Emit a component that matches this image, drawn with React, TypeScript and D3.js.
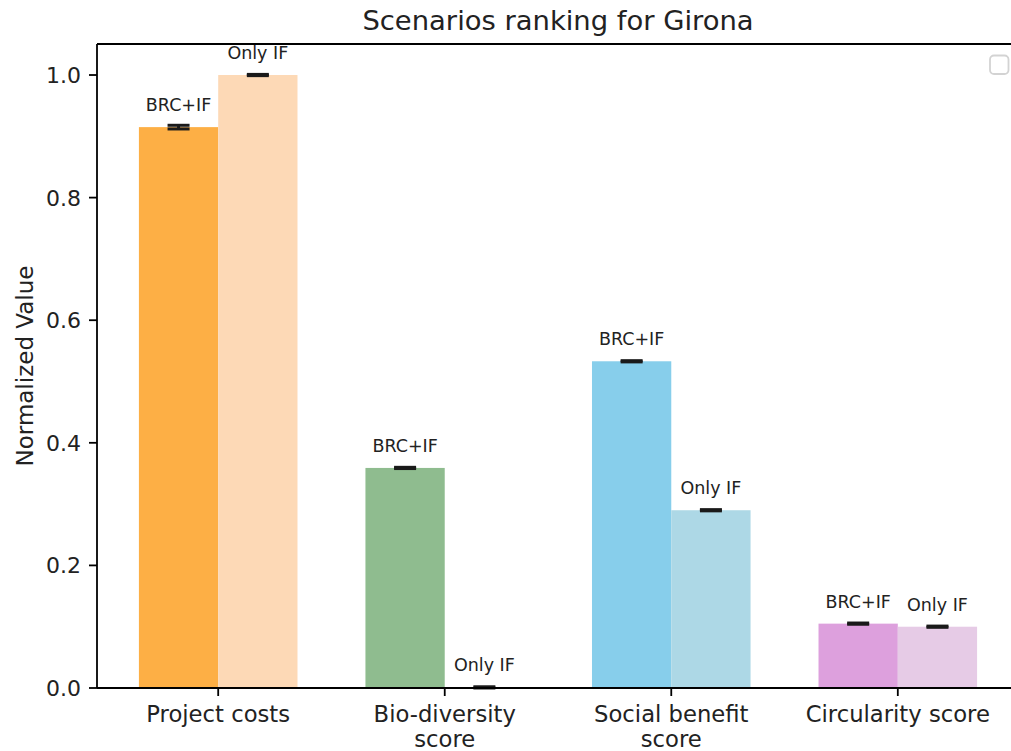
import React from "react";
import * as d3 from "d3";

const categories = ["Project costs", "Bio-diversity\nscore", "Social benefit\nscore", "Circularity score"];
const seriesNames = ["BRC+IF", "Only IF"];
const brcValues = [0.915, 0.359, 0.533, 0.105];
const brcErrors = [0.003, 0.001, 0.001, 0.001];
const onlyValues = [1.0, 0.001, 0.29, 0.1];
const onlyErrors = [0.001, 0.001, 0.001, 0.001];
const brcColors = ["#FDAF45", "#8FBC8F", "#87CEEB", "#DDA0DD"];
const onlyColors = ["#FDD9B6", "#C9E3C9", "#ADD8E6", "#E6CBE6"];
const yTicks = [0, 0.2, 0.4, 0.6, 0.8, 1.0];

const W = 1011;
const H = 751;
const FONT = "DejaVu Sans, sans-serif";

export default function App() {
  const left = 97;
  const right = 1019;
  const top = 44;
  const bottom = 688;
  const barW = 0.35;
  const x = d3.scaleLinear().domain([-0.535, 3.535]).range([left, right]);
  const y = d3.scaleLinear().domain([0, 1.0506]).range([bottom, top]);
  const bw = x(barW) - x(0);
  const capHalf = 11;

  const series = [
    { name: seriesNames[0], values: brcValues, errors: brcErrors, colors: brcColors, off: -barW / 2 },
    { name: seriesNames[1], values: onlyValues, errors: onlyErrors, colors: onlyColors, off: barW / 2 },
  ];

  return (
    <svg width={W} height={H} style={{ position: "absolute", left: 0, top: 0, background: "#fff" }} fontFamily={FONT}>
      <rect x={0} y={0} width={W} height={H} fill="#fff" />
      {series.map((s) =>
        s.values.map((v, i) => {
          const cx = x(i + s.off);
          return (
            <rect key={s.name + i} x={cx - bw / 2} y={y(v)} width={bw} height={y(0) - y(v)} fill={s.colors[i]} />
          );
        })
      )}
      {series.map((s) =>
        s.values.map((v, i) => {
          const cx = x(i + s.off);
          const e = s.errors[i];
          const y1 = y(v + e);
          const y2 = y(Math.max(0, v - e));
          return (
            <g key={"e" + s.name + i} stroke="#1a1a1a" strokeWidth={3}>
              <line x1={cx} x2={cx} y1={y1} y2={y2} />
              <line x1={cx - capHalf} x2={cx + capHalf} y1={y1} y2={y1} />
              <line x1={cx - capHalf} x2={cx + capHalf} y1={y2} y2={y2} />
            </g>
          );
        })
      )}
      {series.map((s) =>
        s.values.map((v, i) => (
          <text key={"l" + s.name + i} x={x(i + s.off)} y={y(v) - 16} textAnchor="middle" fontSize={17.5} fill="#222">
            {s.name}
          </text>
        ))
      )}
      {/* spines */}
      <g stroke="#000" strokeWidth={1.8} fill="none">
        <line x1={left} x2={left} y1={top} y2={bottom} />
        <line x1={left} x2={right} y1={bottom} y2={bottom} />
        <line x1={left} x2={right} y1={top} y2={top} />
        <line x1={right} x2={right} y1={top} y2={bottom} />
      </g>
      {/* y ticks */}
      {yTicks.map((t) => (
        <g key={"y" + t}>
          <line x1={left - 8} x2={left} y1={y(t)} y2={y(t)} stroke="#000" strokeWidth={1.8} />
          <text x={left - 16} y={y(t)} dy="0.36em" textAnchor="end" fontSize={22} fill="#222">
            {d3.format(".1f")(t)}
          </text>
        </g>
      ))}
      {/* x ticks */}
      {categories.map((c, i) => (
        <g key={"x" + i}>
          <line x1={x(i)} x2={x(i)} y1={bottom} y2={bottom + 8} stroke="#000" strokeWidth={1.8} />
          {c.split("\n").map((line, j) => (
            <text key={j} x={x(i)} y={722 + j * 24.5} textAnchor="middle" fontSize={22.7} fill="#222">
              {line}
            </text>
          ))}
        </g>
      ))}
      <text transform={`translate(32.5,${(top + bottom) / 2}) rotate(-90)`} textAnchor="middle" fontSize={23} fill="#222">
        Normalized Value
      </text>
      <text x={(left + right) / 2} y={30} textAnchor="middle" fontSize={27.4} fill="#222">
        Scenarios ranking for Girona
      </text>
      {/* empty legend */}
      <rect x={990} y={55.5} width={18.5} height={18.5} rx={4} fill="#fff" fillOpacity={0.8} stroke="#d3d3d3" strokeWidth={1.8} />
    </svg>
  );
}
